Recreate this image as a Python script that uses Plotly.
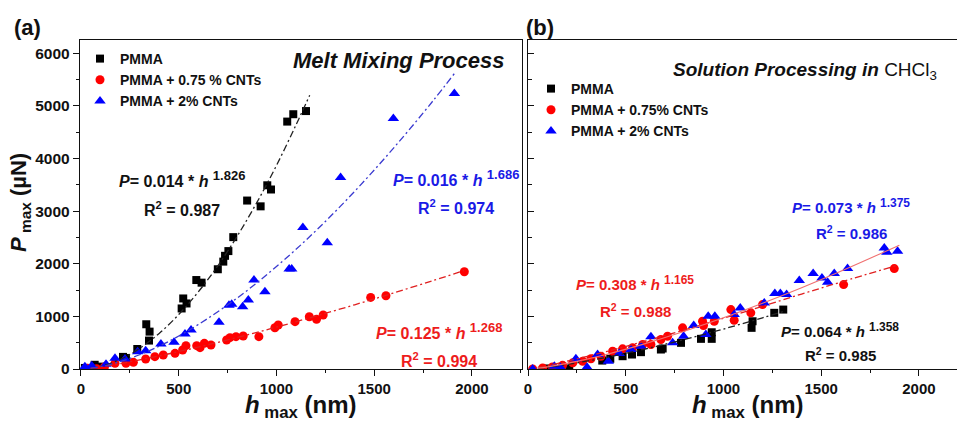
import plotly.graph_objects as go

# ---------------- data ----------------
# Panel (a) - melt mixing
a_pmma_h = [20, 70, 104, 215, 230, 288, 334, 351, 348, 515, 523, 540, 590, 617, 700, 728, 737, 754, 779, 850, 919, 953, 972, 1055, 1086, 1151]
a_pmma_p = [20, 80, 45, 230, 210, 380, 850, 710, 540, 1150, 1340, 1245, 1690, 1640, 1895, 2040, 2150, 2240, 2505, 3200, 3090, 3490, 3410, 4700, 4840, 4900]

a_075_h = [32, 80, 120, 174, 230, 268, 331, 378, 421, 481, 520, 537, 592, 609, 631, 665, 745, 762, 793, 830, 910, 992, 1009, 1095, 1168, 1205, 1239, 1482, 1560, 1961]
a_075_p = [13, 5, 40, 108, 108, 127, 190, 234, 266, 297, 361, 443, 443, 405, 487, 456, 551, 595, 614, 627, 614, 784, 835, 899, 993, 943, 1025, 1360, 1391, 1847]

a_2_h = [20, 55, 128, 174, 225, 290, 331, 409, 476, 532, 563, 706, 757, 771, 827, 856, 885, 941, 1065, 1078, 1135, 1260, 1328, 1598, 1910]
a_2_p = [44, 63, 89, 203, 190, 329, 348, 475, 506, 664, 740, 886, 1209, 1228, 1183, 1310, 1689, 1467, 1898, 1898, 2690, 2397, 3638, 4757, 5232]

# fitted curves as drawn
a_fit_pmma_h = [50, 100, 200, 300, 400, 500, 600, 700, 800, 900, 1000, 1100, 1170]
a_fit_pmma_p = [10, 48, 181, 391, 676, 1034, 1464, 1960, 2529, 3165, 3866, 4637, 5200]
a_fit_2_h = [50, 100, 200, 300, 400, 500, 600, 800, 1000, 1200, 1400, 1600, 1800, 1910]
a_fit_2_p = [15, 45, 140, 271, 434, 626, 844, 1351, 1946, 2621, 3375, 4201, 5091, 5612]
a_fit_075_h = [50, 100, 200, 400, 600, 800, 1000, 1200, 1400, 1600, 1800, 1960]
a_fit_075_p = [18, 43, 103, 249, 417, 600, 796, 1004, 1220, 1445, 1678, 1870]

# Panel (b) - solution processing
b_pmma_h = [100, 211, 380, 421, 484, 532, 578, 680, 689, 783, 885, 940, 940, 1144, 1149, 1260, 1306]
b_pmma_p = [10, 5, 160, 194, 243, 275, 320, 370, 389, 497, 573, 573, 698, 782, 907, 1067, 1129]

b_075_h = [24, 75, 125, 177, 229, 280, 322, 373, 433, 484, 535, 587, 629, 680, 714, 791, 893, 898, 953, 1038, 1055, 1140, 1200, 1615, 1874]
b_075_p = [0, 20, 40, 70, 117, 148, 194, 243, 338, 383, 402, 465, 465, 560, 623, 782, 907, 826, 907, 1129, 926, 1067, 1224, 1604, 1908]

b_2_h = [24, 135, 166, 245, 302, 356, 411, 467, 527, 578, 629, 740, 796, 848, 910, 922, 956, 1055, 1086, 1209, 1263, 1291, 1323, 1388, 1459, 1504, 1533, 1567, 1635, 1823, 1836, 1891]
b_2_p = [0, 53, 30, 194, 34, 275, 148, 294, 370, 433, 611, 497, 623, 826, 655, 1002, 1002, 1034, 1161, 1256, 1433, 1433, 1414, 1680, 1813, 1731, 1648, 1813, 1908, 2300, 2217, 2236]

b_fit_pmma_h = [50, 100, 200, 400, 600, 800, 1000, 1200, 1310]
b_fit_pmma_p = [13, 33, 85, 219, 380, 561, 759, 972, 1096]
b_fit_075_h = [50, 100, 200, 400, 600, 800, 1000, 1200, 1400, 1600, 1880]
b_fit_075_p = [29, 66, 148, 331, 531, 743, 964, 1191, 1424, 1650, 1960]
b_fit_2_h = [50, 100, 200, 400, 600, 800, 1000, 1200, 1400, 1600, 1900]
b_fit_2_p = [16, 41, 107, 276, 482, 717, 973, 1250, 1545, 1857, 2352]

legend_a = ["PMMA", "PMMA + 0.75 % CNTs", "PMMA + 2% CNTs"]
legend_b = ["PMMA", "PMMA + 0.75% CNTs", "PMMA + 2% CNTs"]

eq_a = [("0.014", "1.826", "0.987"), ("0.016", "1.686", "0.974"), ("0.125", "1.268", "0.994")]
eq_b = [("0.064", "1.358", "0.985"), ("0.073", "1.375", "0.986"), ("0.308", "1.165", "0.988")]

# ---------------- styling ----------------
FONT = "Liberation Sans, Arial, sans-serif"
BLACK, RED, BLUE = "#000000", "#ff0000", "#0000ff"
DASH = "7px,3px,2px,3px"

fig = go.Figure()

def markers(x, y, name, color, symbol, size, xa, ya, leg):
    fig.add_trace(go.Scatter(x=x, y=y, mode="markers", name=name, xaxis=xa, yaxis=ya,
                             legend=leg,
                             marker=dict(color=color, symbol=symbol, size=size, line=dict(width=0))))

def fit(x, y, color, xa, ya, dash=DASH, width=1.3):
    fig.add_trace(go.Scatter(x=x, y=y, mode="lines", showlegend=False, xaxis=xa, yaxis=ya,
                             line=dict(color=color, dash=dash, width=width, shape="spline"),
                             hoverinfo="skip"))

# panel (a)
markers(a_pmma_h, a_pmma_p, legend_a[0], BLACK, "square", 8, "x", "y", "legend")
markers(a_075_h, a_075_p, legend_a[1], RED, "circle", 9, "x", "y", "legend")
markers(a_2_h, a_2_p, legend_a[2], BLUE, "triangle-up", 10, "x", "y", "legend")
fit(a_fit_pmma_h, a_fit_pmma_p, "#222222", "x", "y")
fit(a_fit_075_h, a_fit_075_p, "#e02020", "x", "y")
fit(a_fit_2_h, a_fit_2_p, "#3a3ad0", "x", "y")

# panel (b)
markers(b_pmma_h, b_pmma_p, legend_b[0], BLACK, "square", 8, "x2", "y2", "legend2")
markers(b_075_h, b_075_p, legend_b[1], RED, "circle", 9, "x2", "y2", "legend2")
markers(b_2_h, b_2_p, legend_b[2], BLUE, "triangle-up", 10, "x2", "y2", "legend2")
fit(b_fit_pmma_h, b_fit_pmma_p, "#222222", "x2", "y2")
fit(b_fit_075_h, b_fit_075_p, "#e02020", "x2", "y2")
fit(b_fit_2_h, b_fit_2_p, "#f07070", "x2", "y2", dash="solid", width=1.1)

# ---------------- layout ----------------
L, T, W, H = 80, 40, 877, 329
def PX(px):
    return (px - L) / W
def PY(py):
    return (T + H - py) / H

common_x = dict(showgrid=False, zeroline=False, showline=True, linecolor="#111111", linewidth=1.4,
                mirror=True, ticks="outside", ticklen=6, tickwidth=1.3, tickcolor="#111111",
                dtick=500, tick0=0,
                tickfont=dict(family=FONT, size=15, color="#111111", weight="bold"),
                minor=dict(dtick=250, ticks="outside", ticklen=3, tickwidth=1.2, tickcolor="#111111", showgrid=False))
common_y = dict(showgrid=False, zeroline=False, showline=True, linecolor="#111111", linewidth=1.4,
                mirror=True, ticklen=6, tickwidth=1.3, tickcolor="#111111",
                dtick=1000, tick0=0, range=[0, 6250], domain=[0, 1],
                tickfont=dict(family=FONT, size=15.5, color="#111111", weight="bold"))

fig.update_layout(
    width=957, height=425,
    margin=dict(l=L, r=957 - L - W, t=T, b=425 - T - H),
    paper_bgcolor="white", plot_bgcolor="white",
    font=dict(family=FONT, color="#111111"),
    xaxis=dict(common_x, domain=[0, PX(522)], range=[-5, 2256], anchor="y"),
    yaxis=dict(common_y, ticks="outside", anchor="x",
               minor=dict(dtick=500, ticks="outside", ticklen=3, tickwidth=1.2, tickcolor="#111111", showgrid=False)),
    xaxis2=dict(common_x, domain=[PX(528), 1.0], range=[0, 2195], anchor="y2"),
    yaxis2=dict(common_y, ticks="inside", showticklabels=False, anchor="x2",
                minor=dict(dtick=500, ticks="inside", ticklen=4, tickwidth=1.2, tickcolor="#111111", showgrid=False)),
    legend=dict(x=PX(80), y=PY(43), xanchor="left", yanchor="top", bgcolor="rgba(0,0,0,0)",
                font=dict(family=FONT, size=14, color="#111111", weight="bold"),
                itemsizing="trace", tracegroupgap=0),
    legend2=dict(x=PX(531), y=PY(73), xanchor="left", yanchor="top", bgcolor="rgba(0,0,0,0)",
                 font=dict(family=FONT, size=14, color="#111111", weight="bold"),
                 itemsizing="trace", tracegroupgap=0),
    showlegend=True,
)

ann = []
def text(px, py, s, size, color="#111111", weight="bold", angle=0):
    ann.append(dict(x=PX(px), y=PY(py), xref="paper", yref="paper", text=s, showarrow=False,
                    xanchor="center", yanchor="middle", textangle=angle,
                    font=dict(family=FONT, size=size, color=color, weight=weight)))

def equation(px, py, coef, expo, r2, color, size, gap):
    sup = round(size * 0.82)
    text(px, py, "<i>P</i>= %s * <i>h</i> <sup><span style=\"font-size:%dpx\">%s</span></sup>" % (coef, sup, expo),
         size, color)
    text(px, py + gap, "R<sup>2</sup> = %s" % r2, size, color)

# panel labels and titles
text(27, 27, "(a)", 22)
text(540, 27, "(b)", 22)
text(399, 60, "<i>Melt Mixing Process</i>", 22)
text(805, 71, "<b><i>Solution Processing in</i></b> CHCl<sub>3</sub>", 19, weight="normal")

# axis titles
text(20, 203, "<i>P</i><sub> max</sub> (µN)", 22, angle=-90)
text(301, 406, "<i>h</i><sub> max</sub> (nm)", 24)
text(748, 406, "<i>h</i><sub> max</sub> (nm)", 24)

# equations panel (a)
equation(182, 179, *eq_a[0], "#111111", 16, 30)
equation(456, 178, *eq_a[1], "#1a1ae6", 16, 29)
equation(439, 331, *eq_a[2], "#ee1c1c", 16, 29)
# equations panel (b)
equation(840, 330, *eq_b[0], "#111111", 15, 24)
equation(851, 206, *eq_b[1], "#1a1ae6", 15, 27)
equation(635, 283, *eq_b[2], "#ee1c1c", 15, 27)

fig.update_layout(annotations=ann)

fig.write_html("out.html")
